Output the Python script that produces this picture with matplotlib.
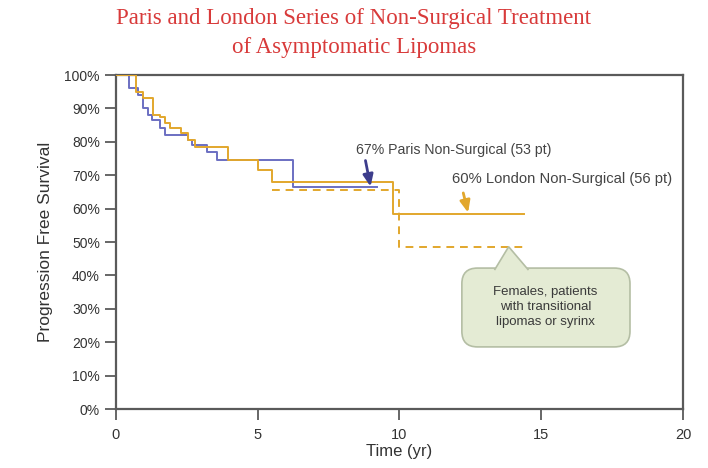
import matplotlib
matplotlib.use("Agg")
import matplotlib.pyplot as plt
from matplotlib.patches import FancyBboxPatch, Polygon

# Paris non-surgical (blue)
paris_t = [0, 0.47, 0.79, 0.96, 1.14, 1.26, 1.55, 1.73, 2.55, 2.67, 3.2, 3.55, 6.24, 9.2]
paris_s = [100, 96, 94, 90, 88, 86.5, 84, 82, 80.5, 79, 77, 74.5, 66.5, 66.5]

# London non-surgical (orange, solid)
london_t = [0, 0.7, 0.94, 1.32, 1.55, 1.73, 1.9, 2.3, 2.55, 2.8, 3.95, 5.0, 5.5, 9.76, 14.4]
london_s = [100, 95, 93, 88, 87.5, 85.5, 84, 82.5, 80.5, 78.5, 74.5, 71.5, 68, 58.5, 58.5]

# London subgroup (orange, dashed)
sub_t = [5.5, 10.0, 14.4]
sub_s = [65.5, 48.5, 48.5]

yticks = [0, 10, 20, 30, 40, 50, 60, 70, 80, 90, 100]
xticks = [0, 5, 10, 15, 20]

blue = '#6b6fc2'
orange = '#e2a72c'
grey = '#5a5a5a'

plt.rcParams['font.family'] = ['Liberation Sans', 'DejaVu Sans']

fig = plt.figure(figsize=(7.08, 4.68), dpi=100)
ax = fig.add_axes([0.1638, 0.126, 0.8009, 0.7137])

ax.step(paris_t, paris_s, where='post', color=blue, lw=1.4, zorder=3)
ax.step(london_t, london_s, where='post', color=orange, lw=1.4, zorder=3)
ax.step(sub_t, sub_s, where='post', color=orange, lw=1.4, ls=(0, (4, 3)), zorder=3)

ax.set_xlim(0, 20)
ax.set_ylim(0, 100)
ax.set_xticks(xticks)
ax.set_yticks(yticks)
ax.set_yticklabels([str(v) + '%' for v in yticks])
for s in ax.spines.values():
    s.set_color(grey)
    s.set_linewidth(1.6)
ax.tick_params(axis='both', direction='out', length=8, width=1.3, color=grey,
               labelsize=10, labelcolor='#333333')
ax.tick_params(axis='x', pad=6, labelsize=10.5)
ax.set_xlabel('Time (yr)', fontsize=12, color='#333333', labelpad=1)
ax.set_ylabel('Progression Free Survival', fontsize=12.5, color='#333333', labelpad=8)

# annotations
arrow = dict(arrowstyle='-|>,head_width=0.3,head_length=0.7', lw=2, shrinkA=0, shrinkB=0)
ax.text(8.45, 77.5, '67% Paris Non-Surgical (53 pt)', fontsize=10.2, color='#444444', va='center')
ax.annotate('', xy=(8.98, 66.6), xytext=(8.8, 74.4),
            arrowprops=dict(color='#3d3d8c', **arrow))
ax.text(11.85, 69.0, '60% London Non-Surgical (56 pt)', fontsize=10.6, color='#444444', va='center')
ax.annotate('', xy=(12.42, 58.8), xytext=(12.25, 64.7),
            arrowprops=dict(color=orange, **arrow))

# callout box
box = FancyBboxPatch((12.2, 18.6), 5.93, 23.6,
                     boxstyle='round,pad=0,rounding_size=0.55', mutation_aspect=8.5,
                     facecolor='#e4ebd4', edgecolor='#b4bea4', lw=1.2, zorder=4)
ax.add_patch(box)
tri = Polygon([(13.35, 41.6), (13.85, 48.6), (14.55, 41.6)], closed=False,
              facecolor='#e4ebd4', edgecolor='#b4bea4', lw=1.2, zorder=5)
ax.add_patch(tri)
ax.text(15.15, 30.5, 'Females, patients\nwith transitional\nlipomas or syrinx',
        fontsize=9.5, color='#3a3a3a', ha='center', va='center', linespacing=1.3, zorder=6)

fig.text(0.5, 0.983, 'Paris and London Series of Non-Surgical Treatment\nof Asymptomatic Lipomas',
         ha='center', va='top', fontsize=16.5, color='#d83a3a',
         family=['Liberation Serif', 'DejaVu Serif'], linespacing=1.5)

fig.savefig('out.png', dpi=100)
